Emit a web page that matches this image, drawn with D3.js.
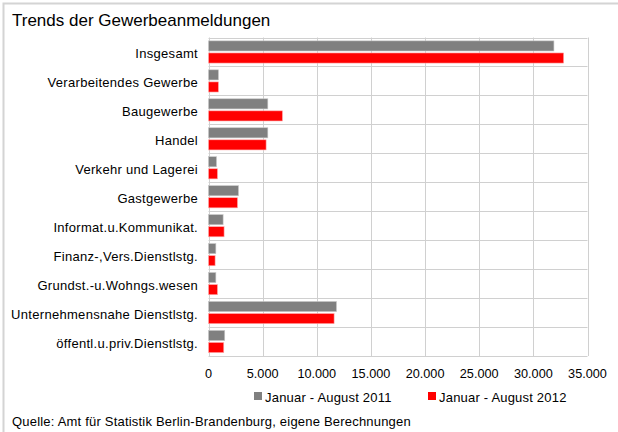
<!DOCTYPE html>
<html>
<head>
<meta charset="utf-8">
<script src="https://cdn.jsdelivr.net/npm/d3@7"></script>
<style>
  html, body { margin: 0; padding: 0; background: #fff; }
  svg { display: block; font-family: "Liberation Sans", Arial, sans-serif; }
</style>
</head>
<body>
<svg id="chart" width="618" height="432"></svg>
<script>
const categories = [
  "Insgesamt",
  "Verarbeitendes Gewerbe",
  "Baugewerbe",
  "Handel",
  "Verkehr und Lagerei",
  "Gastgewerbe",
  "Informat.u.Kommunikat.",
  "Finanz-,Vers.Dienstlstg.",
  "Grundst.-u.Wohngs.wesen",
  "Unternehmensnahe Dienstlstg.",
  "öffentl.u.priv.Dienstlstg."
];
const values2011 = [31900, 920, 5480, 5480, 740, 2770, 1350, 680, 680, 11820, 1500];
const values2012 = [32800, 920, 6830, 5320, 830, 2680, 1440, 610, 830, 11600, 1410];
const seriesNames = ["Januar - August 2011", "Januar - August 2012"];
const seriesColors = ["#808080", "#ff0000"];
const xTicks = [0, 5000, 10000, 15000, 20000, 25000, 30000, 35000];

const svg = d3.select("#chart");

// outer frame
svg.append("path")
  .attr("d", "M3.5,432 V3.5 H618")
  .attr("fill", "none")
  .attr("stroke", "#d4d4d4")
  .attr("stroke-width", 2);

svg.append("text")
  .attr("x", 12).attr("y", 26)
  .attr("font-size", 17)
  .attr("fill", "#000")
  .text("Trends der Gewerbeanmeldungen");

const plot = { left: 208.5, right: 587.5, top: 37.5, bottom: 356 };

const x = d3.scaleLinear().domain([0, 35000]).range([plot.left, plot.right]);
const y = d3.scaleBand().domain(categories).range([plot.top, plot.bottom]);

const g = svg.append("g");

// vertical gridlines
g.selectAll("line.vgrid").data(xTicks).enter().append("line")
  .attr("class", "vgrid")
  .attr("x1", d => Math.round(x(d)) + 0.5).attr("x2", d => Math.round(x(d)) + 0.5)
  .attr("y1", plot.top).attr("y2", plot.bottom)
  .attr("stroke", "#d0d0d0").attr("stroke-width", 1);

// horizontal category separators
const bounds = categories.map(c => y(c)).concat([plot.bottom]);
g.selectAll("line.hgrid").data(bounds).enter().append("line")
  .attr("class", "hgrid")
  .attr("x1", plot.left).attr("x2", plot.right)
  .attr("y1", d => Math.round(d) + 0.5).attr("y2", d => Math.round(d) + 0.5)
  .attr("stroke", "#d0d0d0").attr("stroke-width", 1);

// bars
const sub = d3.scaleBand().domain([0, 1]).range([0, y.bandwidth()]).paddingInner(0.16).paddingOuter(0.28);
const series = [values2011, values2012];
series.forEach((vals, si) => {
  g.selectAll("rect.s" + si).data(vals).enter().append("rect")
    .attr("class", "s" + si)
    .attr("x", x(0))
    .attr("y", (d, i) => y(categories[i]) + sub(si))
    .attr("width", d => x(d) - x(0))
    .attr("height", sub.bandwidth())
    .attr("fill", seriesColors[si])
    .attr("stroke", si === 0 ? "#c8c8c8" : "#ffb0b0")
    .attr("stroke-width", 0.6);
});

// category labels
svg.append("g").selectAll("text").data(categories).enter().append("text")
  .attr("x", 198)
  .attr("y", d => y(d) + y.bandwidth() / 2 + 6.5)
  .attr("text-anchor", "end")
  .attr("font-size", 13)
  .attr("letter-spacing", 0.3)
  .attr("fill", "#000")
  .text(d => d);

// x axis labels
const fmt = d3.formatLocale({ decimal: ",", thousands: ".", grouping: [3], currency: ["", "€"] }).format(",d");
svg.append("g").selectAll("text").data(xTicks).enter().append("text")
  .attr("x", d => x(d))
  .attr("y", 378)
  .attr("text-anchor", "middle")
  .attr("font-size", 12.7)
  .attr("fill", "#000")
  .text(d => fmt(d));

// legend
const legendX = [254, 428];
seriesNames.forEach((name, i) => {
  svg.append("rect")
    .attr("x", legendX[i]).attr("y", 392)
    .attr("width", 8).attr("height", 8)
    .attr("fill", seriesColors[i]);
  svg.append("text")
    .attr("x", legendX[i] + 11).attr("y", 401.5)
    .attr("font-size", 13)
    .attr("letter-spacing", 0.2)
    .attr("fill", "#000")
    .text(name);
});

svg.append("text")
  .attr("x", 12).attr("y", 426)
  .attr("font-size", 13)
  .attr("letter-spacing", 0.2)
  .attr("fill", "#000")
  .text("Quelle: Amt für Statistik Berlin-Brandenburg,  eigene Berechnungen");
</script>
</body>
</html>
